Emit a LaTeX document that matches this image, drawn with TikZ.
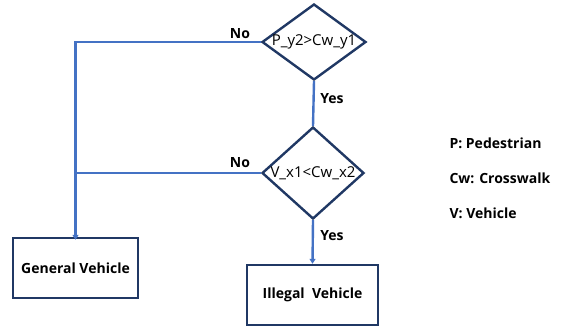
\documentclass[tikz,border=0pt]{standalone}
\usepackage{fontspec}
\setmainfont{Open Sans}
\usetikzlibrary{shapes.geometric,arrows.meta}

\definecolor{flowblue}{RGB}{68,114,196}
\definecolor{boxnavy}{RGB}{32,56,100}

\begin{document}
\begin{tikzpicture}[x=1pt,y=-1pt,
  decision/.style={draw=boxnavy,line width=2.4pt,diamond,inner sep=0pt},
  result/.style={draw=boxnavy,line width=2.4pt,rectangle,font=\fontsize{14}{16}\selectfont\bfseries},
  flow/.style={draw=flowblue,line width=2.4pt},
  tag/.style={font=\fontsize{14}{16}\selectfont\bfseries}]
\useasboundingbox (0,0) rectangle (564,330);

% Decisions
\node[decision,minimum width=104pt,minimum height=76pt] (q1) at (314,42) {};
\node[font=\fontsize{15}{17}\selectfont] (q1txt) at (q1) {P\_y2>Cw\_y1};
\node[decision,minimum width=102pt,minimum height=92pt] (q2) at (313,173) {};
\node[font=\fontsize{15}{17}\selectfont] (q2txt) at (q2) {V\_x1<Cw\_x2};

% Results
\node[result,minimum width=125pt,minimum height=60pt] (gv) at (75.5,268) {General Vehicle};
\node[result,minimum width=131pt,minimum height=60pt] (iv) at (312.5,295) {Illegal\ \ Vehicle};

% Connectors
\coordinate (join) at (q2.west -| gv.north);
\draw[flow,-{Triangle[length=5pt,width=6pt]}] (q1.west) -| ([yshift=-3pt]gv.north);
\draw[flow] (q2.west) -- (join);
\draw[flow] (q1.south) -- (q2.north);
\draw[flow,-{Triangle[length=5pt,width=6pt]}] (q2.south) -- (iv.north);

% Labels
\node[tag] (no1) at (240,34) {No};
\node[tag] (no2) at (240,163) {No};
\node[tag] (yes1) at (332,99) {Yes};
\node[tag] (yes2) at (332,236) {Yes};

% Legend
\node[tag,anchor=west] (lp) at (446,143) {P: Pedestrian};
\node[tag,anchor=west] (lcw) at (446,178) {Cw: Crosswalk};
\node[tag,anchor=west] (lv) at (446,213) {V: Vehicle};
\end{tikzpicture}
\end{document}
